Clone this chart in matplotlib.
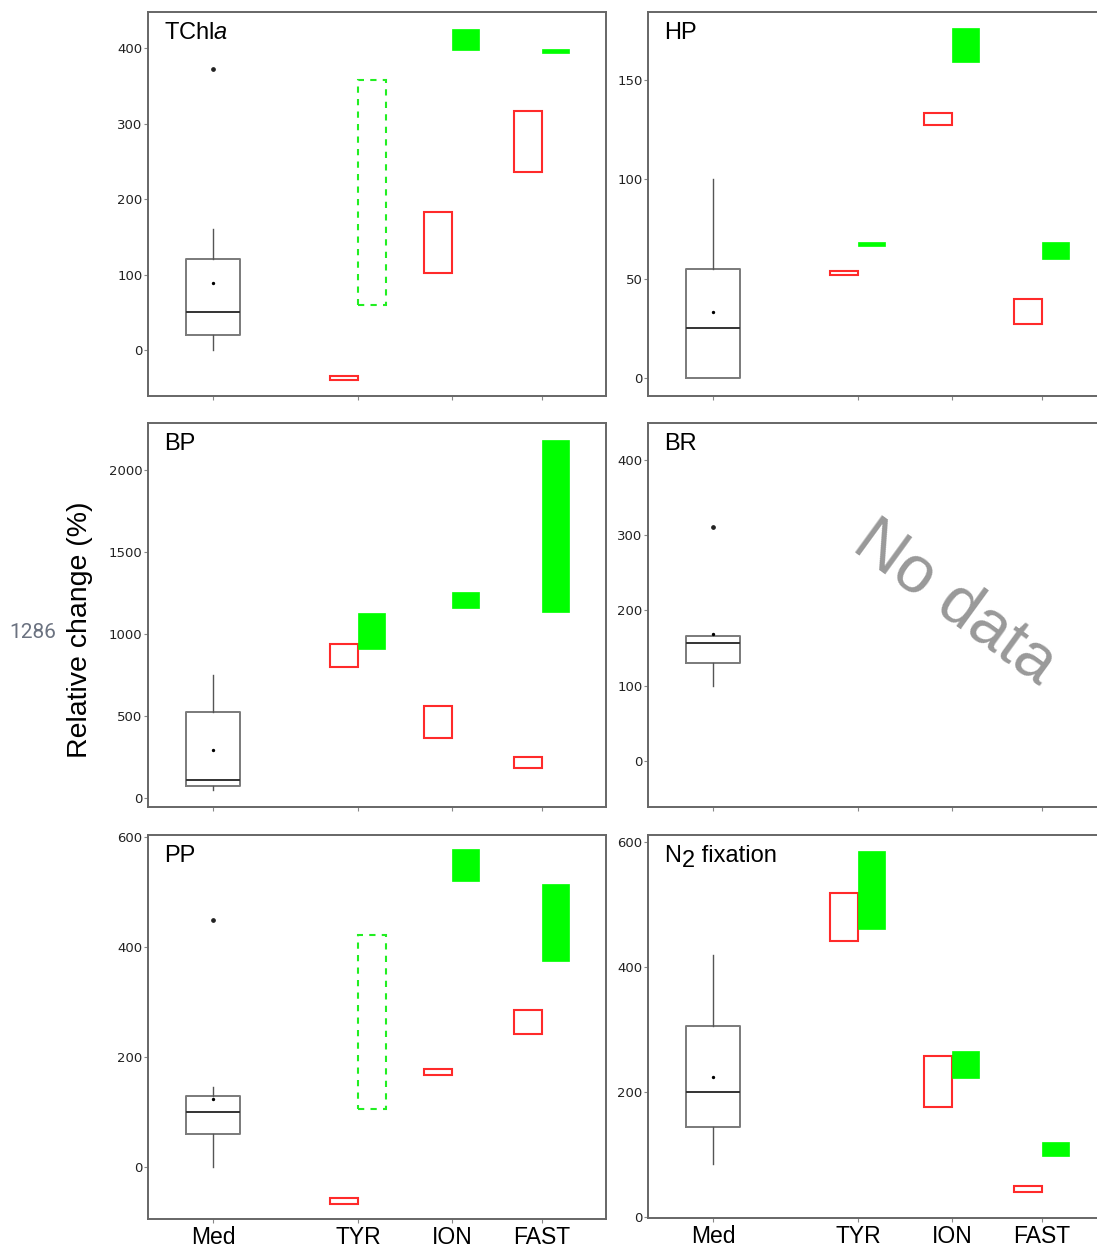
import matplotlib
matplotlib.use('Agg')
import matplotlib.pyplot as plt

plt.rcParams['font.family'] = ['Liberation Sans', 'DejaVu Sans']
plt.rcParams['mathtext.fontset'] = 'custom'
plt.rcParams['mathtext.rm'] = 'Liberation Sans'
plt.rcParams['mathtext.it'] = 'Liberation Sans:italic'

sites = ['Med', 'TYR', 'ION', 'FAST']
site_x = [1, 2.56, 3.57, 4.54]

# Med box: whisker low, q1, median, q3, whisker high
tchla_box = [0, 20, 50, 120, 160]
tchla_mean = 89
tchla_out = [372]
tchla_red_lo = [-40, 102, 236]
tchla_red_hi = [-34, 183, 317]
tchla_green_lo = [59, 398, 394]
tchla_green_hi = [358, 426, 399]

hp_box = [0, 0, 25, 55, 100]
hp_mean = 33
hp_out = []
hp_red_lo = [52, 127, 27]
hp_red_hi = [54, 133, 40]
hp_green_lo = [66.3, 159, 60]
hp_green_hi = [68.2, 176, 68.5]

bp_box = [51, 75, 112, 525, 749]
bp_mean = 291
bp_out = []
bp_red_lo = [798, 366, 185]
bp_red_hi = [938, 564, 252]
bp_green_lo = [909, 1162, 1135]
bp_green_hi = [1131, 1257, 2183]

br_box = [100, 130.5, 156.6, 165.5, 165.5]
br_mean = 169
br_out = [311.5]

pp_box = [0, 60, 101, 130, 146]
pp_mean = 124
pp_out = [449]
pp_red_lo = [-66, 168, 243]
pp_red_hi = [-55, 179, 285]
pp_green_lo = [106, 521, 375]
pp_green_hi = [423, 578, 515]

n2_box = [84, 144, 200, 305, 419]
n2_mean = 223
n2_out = []
n2_red_lo = [442, 176, 40]
n2_red_hi = [518, 258, 50]
n2_green_lo = [460, 222, 97]
n2_green_hi = [585, 266, 119]

W, H = 1097, 1250
fig = plt.figure(figsize=(W / 100, H / 100), dpi=100)


def make_ax(left, top, bottom, width=458):
    return fig.add_axes([left / W, 1 - bottom / H, width / W, (bottom - top) / H])


def style(ax, ylim, yticks, title, show_x=False):
    ax.set_xlim(0.3, 5.23)
    ax.set_ylim(*ylim)
    ax.set_yticks(yticks)
    ax.set_xticks(site_x)
    if show_x:
        ax.set_xticklabels(sites, fontsize=16.5)
    else:
        ax.set_xticklabels([])
    for lab in ax.get_yticklabels():
        lab.set_family('DejaVu Sans')
    for s in ax.spines.values():
        s.set_color('#666666')
        s.set_linewidth(1.4)
    ax.tick_params(axis='y', labelsize=9.5, length=3, width=0.8, color='#888888',
                   labelcolor='#222222', pad=1)
    ax.tick_params(axis='x', length=3, width=0.8, color='#888888', pad=2)
    if title:
        ax.text(0.035, 0.975, title, transform=ax.transAxes, fontsize=17,
                ha='left', va='top')


def draw_box(ax, box, mean, out):
    st = dict(whislo=box[0], q1=box[1], med=box[2], q3=box[3], whishi=box[4],
              mean=mean, fliers=out)
    ax.bxp([st], positions=[site_x[0]], widths=0.59, showmeans=True, showcaps=False,
           boxprops=dict(color='#7a7a7a', lw=1.4),
           medianprops=dict(color='#333333', lw=1.4),
           whiskerprops=dict(color='#555555', lw=1.0),
           meanprops=dict(marker='o', markersize=1.4, markerfacecolor='k',
                          markeredgecolor='k'),
           flierprops=dict(marker='o', markersize=2.4, markerfacecolor='#222222',
                           markeredgecolor='#222222'))


def draw_ranges(ax, red_lo, red_hi, green_lo, green_hi, dashed=(False, False, False)):
    xs = site_x[1:]
    for i, x in enumerate(xs):
        ax.bar(x, red_hi[i] - red_lo[i], bottom=red_lo[i], width=-0.3, align='edge',
               facecolor='none', edgecolor='#ff2a2a', lw=1.5)
        if dashed[i]:
            ax.bar(x, green_hi[i] - green_lo[i], bottom=green_lo[i], width=0.3,
                   align='edge', facecolor='none', edgecolor='#22ee22', lw=1.5,
                   linestyle=(0, (3, 3)))
        else:
            ax.bar(x, green_hi[i] - green_lo[i], bottom=green_lo[i], width=0.29,
                   align='edge', facecolor='#00ff00', edgecolor='#00ff00', lw=0.5)


# row 1
ax1 = make_ax(148, 12, 396)
draw_box(ax1, tchla_box, tchla_mean, tchla_out)
draw_ranges(ax1, tchla_red_lo, tchla_red_hi, tchla_green_lo, tchla_green_hi,
            dashed=(True, False, False))
style(ax1, (-61, 448), [0, 100, 200, 300, 400], r'TChl$\mathit{a}$')

ax2 = make_ax(648, 12, 396)
draw_box(ax2, hp_box, hp_mean, hp_out)
draw_ranges(ax2, hp_red_lo, hp_red_hi, hp_green_lo, hp_green_hi)
style(ax2, (-9, 184), [0, 50, 100, 150], 'HP')

# row 2
ax3 = make_ax(148, 423, 807)
draw_box(ax3, bp_box, bp_mean, bp_out)
draw_ranges(ax3, bp_red_lo, bp_red_hi, bp_green_lo, bp_green_hi)
style(ax3, (-55, 2289), [0, 500, 1000, 1500, 2000], 'BP')

ax4 = make_ax(648, 423, 807)
draw_box(ax4, br_box, br_mean, br_out)
style(ax4, (-61, 449), [0, 100, 200, 300, 400], 'BR')
ax4.text(0.67, 0.53, 'No data', transform=ax4.transAxes, fontsize=48,
         color='#999999', rotation=-36, ha='center', va='center')

# row 3
ax5 = make_ax(148, 835, 1219)
draw_box(ax5, pp_box, pp_mean, pp_out)
draw_ranges(ax5, pp_red_lo, pp_red_hi, pp_green_lo, pp_green_hi,
            dashed=(True, False, False))
style(ax5, (-94, 604), [0, 200, 400, 600], 'PP', show_x=True)

ax6 = make_ax(648, 835, 1218)
draw_box(ax6, n2_box, n2_mean, n2_out)
draw_ranges(ax6, n2_red_lo, n2_red_hi, n2_green_lo, n2_green_hi)
style(ax6, (-2, 611), [0, 200, 400, 600], None, show_x=True)
# N2 title with a full-size, lowered "2"
t_n = ax6.text(0.035, 0.975, 'N', transform=ax6.transAxes, fontsize=17,
               ha='left', va='top')
t_2 = ax6.annotate('2', xy=(1, 0), xycoords=t_n, xytext=(0.5, -4),
                   textcoords='offset points', fontsize=17, ha='left', va='bottom')
ax6.annotate(' fixation', xy=(1, 0), xycoords=t_2, xytext=(0, 4),
             textcoords='offset points', fontsize=17, ha='left', va='bottom')

fig.text(80 / W, 1 - 630 / H, 'Relative change (%)', rotation=90, fontsize=20.5,
         ha='center', va='center')
fig.text(33 / W, 1 - 632 / H, '1286', fontsize=15, color='#6b7280',
         family='Roboto', ha='center', va='center')

fig.savefig('out.png', dpi=100)
